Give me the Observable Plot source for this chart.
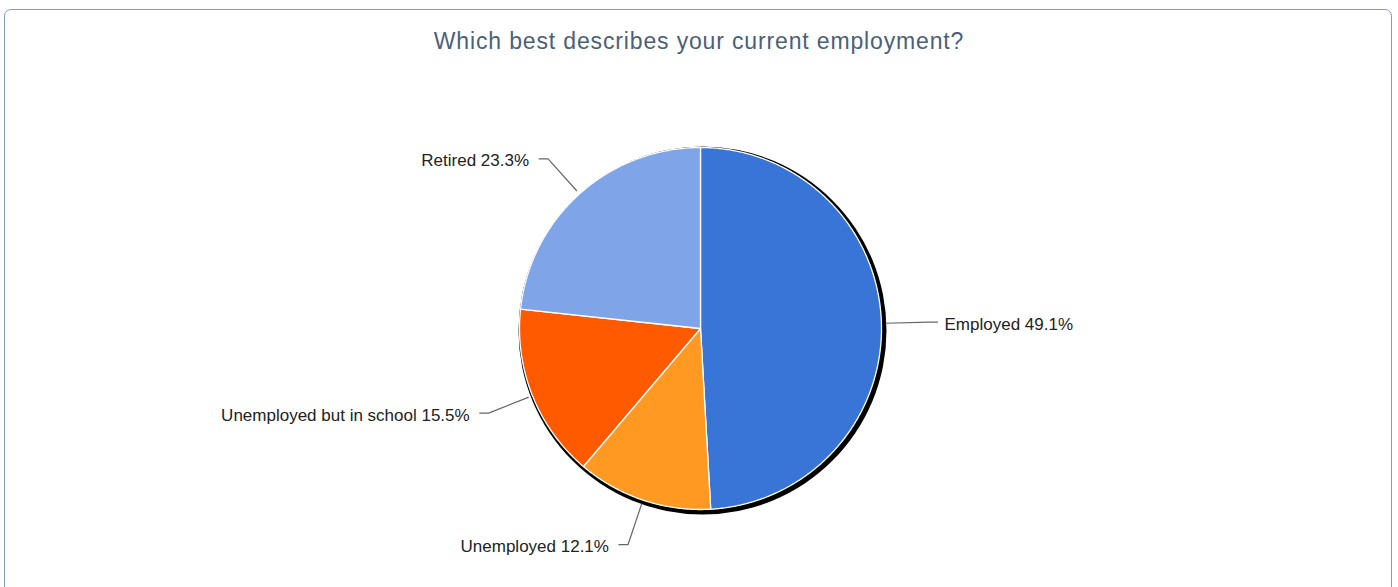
<!DOCTYPE html>
<html>
<head>
<meta charset="utf-8">
<script src="https://cdn.jsdelivr.net/npm/d3@7"></script>
<script src="https://cdn.jsdelivr.net/npm/@observablehq/plot@0.6"></script>
<style>
  html, body { margin: 0; padding: 0; background: #fff; }
  #wrap { position: relative; width: 1398px; height: 587px; overflow: hidden; font-family: "Liberation Sans", Arial, sans-serif; }
  #panel { position: absolute; left: 4px; top: 9px; width: 1388px; height: 620px; border: 1px solid #7d9cc7; border-radius: 7px; box-sizing: border-box; }
  #title { position: absolute; left: 0; top: 27px; width: 1398px; text-align: center; font-size: 23px; letter-spacing: 0.85px; color: #4b6079; line-height: 28px; }
  #chart { position: absolute; left: 0; top: 0; }
</style>
</head>
<body>
<div id="wrap">
  <div id="panel"></div>
  <div id="chart"></div>
  <div id="title">Which best describes your current employment?</div>
</div>
<script>
const categories = ["Employed", "Unemployed", "Unemployed but in school", "Retired"];
const values = [49.1, 12.1, 15.5, 23.3];

const sliceColors = ["#3875d7", "#ff9922", "#ff5a00", "#7fa5e8"];

// layout (pixels)
const W = 1398, H = 587, CX = 700, CY = 328, R = 181;

const arcs = d3.pie().sort(null).value(d => d)(values);

// slice polygons (unit radius)
const slicePts = [];
arcs.forEach((a, i) => {
  const cat = categories[i];
  slicePts.push({cat, x: 0, y: 0});
  const n = Math.max(2, Math.ceil((a.endAngle - a.startAngle) / (Math.PI / 360)));
  for (let k = 0; k <= n; k++) {
    const t = a.startAngle + (a.endAngle - a.startAngle) * k / n;
    slicePts.push({cat, x: Math.sin(t), y: Math.cos(t)});
  }
  slicePts.push({cat, x: 0, y: 0});
});

// leader lines and labels
const leaderPts = [];
const labels = [];
arcs.forEach((a, i) => {
  const mid = (a.startAngle + a.endAngle) / 2;
  const side = Math.sin(mid) >= 0 ? 1 : -1;
  const p0 = {x: 1.025 * Math.sin(mid), y: 1.025 * Math.cos(mid)};
  const p1 = {x: 1.26 * Math.sin(mid), y: 1.26 * Math.cos(mid)};
  const p2 = {x: p1.x + side * 0.05, y: p1.y};
  leaderPts.push({cat: categories[i], ...p0}, {cat: categories[i], ...p1}, {cat: categories[i], ...p2});
  labels.push({text: `${categories[i]} ${values[i].toFixed(1)}%`, x: p2.x, y: p2.y, side});
});

const chart = Plot.plot({
  width: W,
  height: H,
  margin: 0,
  style: {background: "transparent", fontFamily: "'Liberation Sans', Arial, sans-serif"},
  x: {domain: [-CX / R, (W - CX) / R], axis: null},
  y: {domain: [-(H - CY) / R, CY / R], axis: null},
  color: {domain: categories, range: sliceColors},
  marks: [
    Plot.dot([0], {x: () => 2 / R, y: () => -2 / R, r: 184, fill: "#000", stroke: "none"}),
    Plot.line(slicePts, {x: "x", y: "y", z: "cat", fill: "cat", stroke: "#fff", strokeWidth: 1.3, curve: "linear"}),
    Plot.line(leaderPts, {x: "x", y: "y", z: "cat", stroke: "#666", strokeWidth: 1.2}),
    Plot.text(labels.filter(d => d.side > 0), {x: "x", y: "y", text: "text", textAnchor: "start", dx: 7, dy: 2, fontSize: 17, fill: "#222"}),
    Plot.text(labels.filter(d => d.side < 0), {x: "x", y: "y", text: "text", textAnchor: "end", dx: -10, dy: 2, fontSize: 17, fill: "#222"})
  ]
});
document.getElementById("chart").appendChild(chart);
</script>
</body>
</html>
